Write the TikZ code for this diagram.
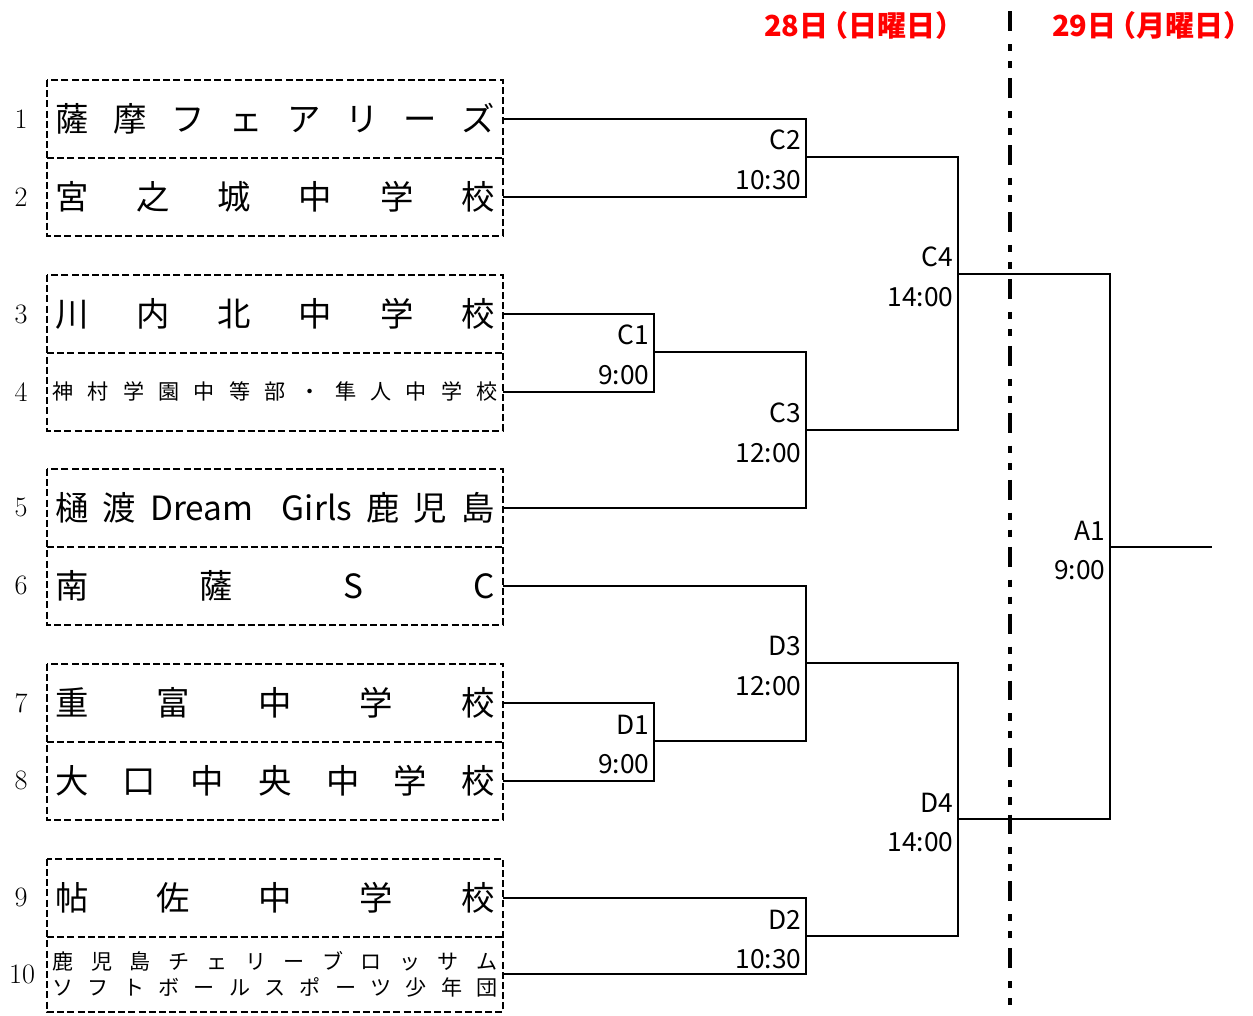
\documentclass[tikz,border=0pt]{standalone}
\usepackage{fontspec}
\usepackage{xcolor}
\usepackage{tikz}
\usetikzlibrary{positioning,calc}
\newfontfamily\jp{Noto Sans CJK JP}
\definecolor{dayred}{RGB}{255,0,0}
\newcommand{\teamline}[2]{\makebox[#1][s]{#2}}

\begin{document}
\begin{tikzpicture}[x=0.02cm,y=-0.02cm,team/.style={minimum width=9.12cm,minimum height=1.56cm,inner sep=0pt,outer sep=0pt,font=\jp\fontsize{19}{22}\selectfont},smallteam/.style={team,font=\jp\fontsize{12}{14.7}\selectfont,align=center},num/.style={font=\fontsize{16}{18}\selectfont},lbl/.style={font=\jp\fontsize{15}{17}\selectfont,inner sep=0pt},mname/.style={lbl,anchor=south east,xshift=-2.5pt,yshift=3.7pt},mtime/.style={lbl,anchor=north east,xshift=-2.5pt,yshift=-7.6pt},pairbox/.style={line width=1.1pt,dash pattern=on 4pt off 1.8pt},bracket/.style={line width=1.2pt},day/.style={font=\jp\bfseries\fontsize{16.5}{19}\selectfont,text=dayred,inner sep=0pt},daysep/.style={line width=2.3pt,dash pattern=on 4pt off 5.7pt on 4pt off 5.7pt on 11.3pt off 7.4pt}]
\useasboundingbox (0,0) rectangle (1253,1015);
% teams
\node[team](t1) at (275,119){\teamline{8.8cm}{薩\hfill 摩\hfill フ\hfill ェ\hfill ア\hfill リ\hfill ー\hfill ズ}};
\node[team,below=0pt of t1](t2){\teamline{8.8cm}{宮\hfill 之\hfill 城\hfill 中\hfill 学\hfill 校}};
\node[team,below=0.78cm of t2](t3){\teamline{8.8cm}{川\hfill 内\hfill 北\hfill 中\hfill 学\hfill 校}};
\node[smallteam,below=0pt of t3](t4){\teamline{8.9cm}{神\hfill 村\hfill 学\hfill 園\hfill 中\hfill 等\hfill 部\hfill ・\hfill 隼\hfill 人\hfill 中\hfill 学\hfill 校}};
\node[team,below=0.76cm of t4](t5){\teamline{8.8cm}{樋\hfill 渡\hfill Dream\hfill\hfill Girls\hfill 鹿\hfill 児\hfill 島}};
\node[team,below=0pt of t5](t6){\teamline{8.8cm}{南\hfill 薩\hfill S\hfill C}};
\node[team,below=0.78cm of t6](t7){\teamline{8.8cm}{重\hfill 富\hfill 中\hfill 学\hfill 校}};
\node[team,below=0pt of t7](t8){\teamline{8.8cm}{大\hfill 口\hfill 中\hfill 央\hfill 中\hfill 学\hfill 校}};
\node[team,below=0.78cm of t8](t9){\teamline{8.8cm}{帖\hfill 佐\hfill 中\hfill 学\hfill 校}};
\node[smallteam,below=0pt of t9,minimum height=1.5cm](t10){\teamline{8.9cm}{鹿\hfill 児\hfill 島\hfill チ\hfill ェ\hfill リ\hfill ー\hfill ブ\hfill ロ\hfill ッ\hfill サ\hfill ム}\\\teamline{8.9cm}{ソ\hfill フ\hfill ト\hfill ボ\hfill ー\hfill ル\hfill ス\hfill ポ\hfill ー\hfill ツ\hfill 少\hfill 年\hfill 団}};
\node[num] at ($(t1.west)+(-26,0)$){1}; \node[num] at ($(t2.west)+(-26,0)$){2}; \node[num] at ($(t3.west)+(-26,0)$){3}; \node[num] at ($(t4.west)+(-26,0)$){4}; \node[num] at ($(t5.west)+(-26,0)$){5};
\node[num] at ($(t6.west)+(-26,0)$){6}; \node[num] at ($(t7.west)+(-26,0)$){7}; \node[num] at ($(t8.west)+(-26,0)$){8}; \node[num] at ($(t9.west)+(-26,0)$){9}; \node[num] at ($(t10.west)+(-25,0)$){10};
\draw[pairbox](t1.north west) rectangle (t2.south east); \draw[pairbox](t1.south west)--(t1.south east);
\draw[pairbox](t3.north west) rectangle (t4.south east); \draw[pairbox](t3.south west)--(t3.south east);
\draw[pairbox](t5.north west) rectangle (t6.south east); \draw[pairbox](t5.south west)--(t5.south east);
\draw[pairbox](t7.north west) rectangle (t8.south east); \draw[pairbox](t7.south west)--(t7.south east);
\draw[pairbox](t9.north west) rectangle (t10.south east); \draw[pairbox](t9.south west)--(t9.south east);
% matches
\coordinate (c1) at (654,352); \coordinate (c2) at (806,157); \coordinate (c3) at (806,430); \coordinate (c4) at (958,274);
\coordinate (d1) at (654,741); \coordinate (d2) at (806,936); \coordinate (d3) at (806,663); \coordinate (d4) at (958,819);
\coordinate (a1) at (1110,547); \coordinate (win) at (1212,547);
\draw[bracket](t1.east)-|(c2); \draw[bracket](t2.east)-|(c2); \draw[bracket](t3.east)-|(c1); \draw[bracket](t4.east)-|(c1);
\draw[bracket](c1)-|(c3); \draw[bracket](t5.east)-|(c3); \draw[bracket](c2)-|(c4); \draw[bracket](c3)-|(c4);
\draw[bracket](t6.east)-|(d3); \draw[bracket](t7.east)-|(d1); \draw[bracket](t8.east)-|(d1); \draw[bracket](d1)-|(d3);
\draw[bracket](t9.east)-|(d2); \draw[bracket](t10.east)-|(d2); \draw[bracket](d3)-|(d4); \draw[bracket](d2)-|(d4);
\draw[bracket](c4)-|(a1); \draw[bracket](d4)-|(a1); \draw[bracket](a1)--(win);
\node[mname] at (c1){C1}; \node[mtime] at (c1){9:00}; \node[mname] at (c2){C2}; \node[mtime] at (c2){10:30};
\node[mname] at (c3){C3}; \node[mtime] at (c3){12:00}; \node[mname] at (c4){C4}; \node[mtime] at (c4){14:00};
\node[mname] at (d1){D1}; \node[mtime] at (d1){9:00}; \node[mname] at (d2){D2}; \node[mtime] at (d2){10:30};
\node[mname] at (d3){D3}; \node[mtime] at (d3){12:00}; \node[mname] at (d4){D4}; \node[mtime] at (d4){14:00};
\node[mname] at (a1){A1}; \node[mtime] at (a1){9:00};
% days
\coordinate (sept) at (1010,10); \coordinate (sepb) at (1010,1015);
\draw[daysep,dash phase=18.7pt](sept)--(sepb);
\node[day](d28) at (860,25){28日\kern-.3em（日曜日）\kern-.3em}; \node[day](d29) at (1148,25){29日\kern-.3em（月曜日）\kern-.3em};
\end{tikzpicture}
\end{document}
